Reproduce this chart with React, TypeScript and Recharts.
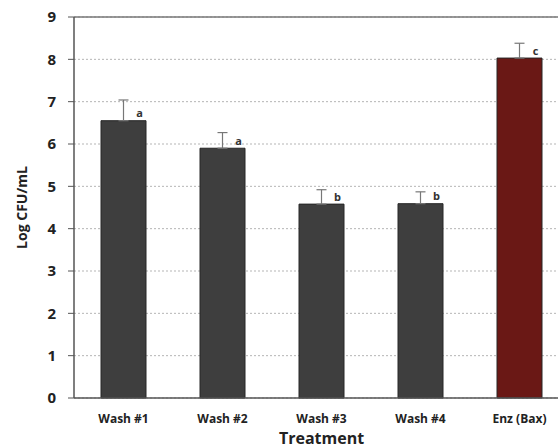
import { BarChart, Bar, XAxis, YAxis, CartesianGrid, ErrorBar, Cell, LabelList, ReferenceLine } from 'recharts';

const categories = ['Wash #1', 'Wash #2', 'Wash #3', 'Wash #4', 'Enz (Bax)'];
const means = [6.55, 5.9, 4.58, 4.59, 8.03];
const errors = [0.49, 0.37, 0.34, 0.28, 0.35];
const letters = ['a', 'a', 'b', 'b', 'c'];
const yTicks = [0, 1, 2, 3, 4, 5, 6, 7, 8, 9];

const COLORS = ['#3e3e3e', '#3e3e3e', '#3e3e3e', '#3e3e3e', '#6a1815'];
const FONT = '"Open Sans", sans-serif';

const data = categories.map((name, i) => ({
  name,
  value: means[i],
  err: [0, errors[i]],
  letter: letters[i]
}));

const renderLetter = (props: any) => {
  const { x, y, width, value } = props;
  return (
    <text
      x={x + width / 2 + 16}
      y={y - 8}
      textAnchor="middle"
      dominantBaseline="central"
      fontFamily={FONT}
      fontWeight={700}
      fontSize={11}
      fill="#333"
    >
      {value}
    </text>
  );
};

export default function App() {
  return (
    <div style={{ position: 'fixed', top: 0, left: 0, width: 558, height: 448, overflow: 'hidden', background: '#fff' }}>
      <BarChart
        width={570}
        height={448}
        data={data}
        margin={{ top: 17, right: 1, bottom: 0, left: 0 }}
        barSize={45}
      >
        <CartesianGrid vertical={false} horizontal stroke="#b5b5b5" strokeDasharray="2 2" />
        <ReferenceLine y={9} stroke="#777" strokeWidth={1.5} />
        <XAxis
          dataKey="name"
          height={50}
          tickLine={false}
          axisLine={{ stroke: '#555', strokeWidth: 1.5 }}
          tick={{ fontFamily: FONT, fontWeight: 700, fontSize: 12, fill: '#222' }}
          tickMargin={10}
          label={{
            value: 'Treatment',
            position: 'insideBottom',
            offset: 4,
            style: { fontFamily: FONT, fontWeight: 700, fontSize: 16, fill: '#222' }
          }}
        />
        <YAxis
          width={74}
          domain={[0, 9]}
          ticks={yTicks}
          interval={0}
          tickSize={6}
          tickMargin={12}
          tickLine={{ stroke: '#555' }}
          axisLine={{ stroke: '#555', strokeWidth: 1.5 }}
          tick={{ fontFamily: FONT, fontWeight: 700, fontSize: 15, fill: '#222' }}
          label={{
            value: 'Log CFU/mL',
            angle: -90,
            position: 'insideLeft',
            offset: 22,
            style: { fontFamily: FONT, fontWeight: 700, fontSize: 14, fill: '#222', textAnchor: 'middle' }
          }}
        />
        <Bar dataKey="value" isAnimationActive={false} stroke="#262626" strokeWidth={1}>
          {data.map((entry, index) => (
            <Cell key={`cell-${index}`} fill={COLORS[index]} />
          ))}
          <ErrorBar dataKey="err" direction="y" width={5} stroke="#777" strokeWidth={1.2} />
          <LabelList dataKey="letter" content={renderLetter} />
        </Bar>
      </BarChart>
    </div>
  );
}
